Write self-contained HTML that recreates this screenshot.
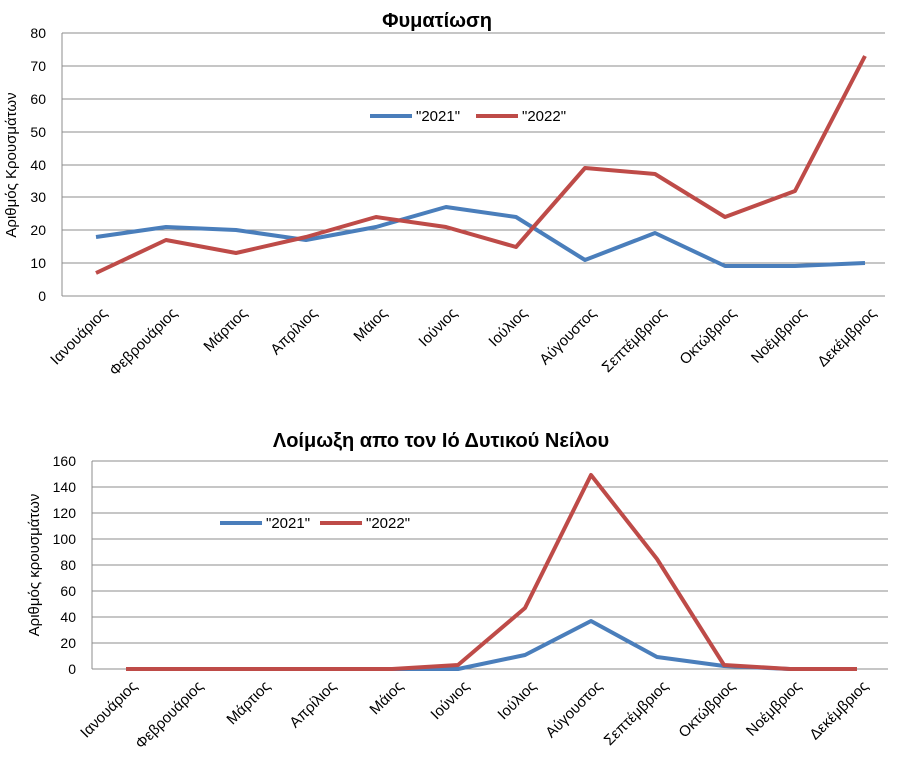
<!DOCTYPE html>
<html><head><meta charset="utf-8"><style>body{margin:0;background:#fff}svg{display:block;font-family:"Liberation Sans","DejaVu Sans",sans-serif}</style></head>
<body>
<svg width="911" height="775" viewBox="0 0 911 775">
<g id="c1">
<text x="437" y="27" text-anchor="middle" font-size="20" font-weight="bold">Φυματίωση</text>
<g stroke="#8c8c8c" stroke-width="1">
<line x1="62" y1="33" x2="885" y2="33"/><line x1="62" y1="66" x2="885" y2="66"/><line x1="62" y1="99" x2="885" y2="99"/><line x1="62" y1="132" x2="885" y2="132"/><line x1="62" y1="165" x2="885" y2="165"/><line x1="62" y1="197" x2="885" y2="197"/><line x1="62" y1="230" x2="885" y2="230"/><line x1="62" y1="263" x2="885" y2="263"/><line x1="62" y1="296" x2="885" y2="296"/><line x1="62" y1="33" x2="62" y2="296"/>
</g>
<g font-size="14" text-anchor="end">
<text x="46" y="38">80</text><text x="46" y="71">70</text><text x="46" y="104">60</text><text x="46" y="137">50</text><text x="46" y="170">40</text><text x="46" y="202">30</text><text x="46" y="235">20</text><text x="46" y="268">10</text><text x="46" y="301">0</text>
</g>
<text transform="translate(16,165) rotate(-90)" text-anchor="middle" font-size="15">Αριθμός Κρουσμάτων</text>
<polyline fill="none" stroke="#4a7ebb" stroke-width="4" stroke-linejoin="round" points="96,237 166,227 236,230 306,240 376,227 446,207 516,217 585,260 655,233 725,266 795,266 865,263"/>
<polyline fill="none" stroke="#be4b48" stroke-width="4" stroke-linejoin="round" points="96,273 166,240 236,253 306,237 376,217 446,227 516,247 585,168 655,174 725,217 795,191 865,56"/>
<line x1="370" y1="116" x2="412" y2="116" stroke="#4a7ebb" stroke-width="4"/><text x="416" y="121" font-size="15">"2021"</text>
<line x1="476" y1="116" x2="518" y2="116" stroke="#be4b48" stroke-width="4"/><text x="522" y="121" font-size="15">"2022"</text>
<g font-size="15" text-anchor="end">
<text transform="translate(108,314) rotate(-45)">Ιανουάριος</text>
<text transform="translate(178,314) rotate(-45)">Φεβρουάριος</text>
<text transform="translate(248,314) rotate(-45)">Μάρτιος</text>
<text transform="translate(318,314) rotate(-45)">Απρίλιος</text>
<text transform="translate(388,314) rotate(-45)">Μάιος</text>
<text transform="translate(458,314) rotate(-45)">Ιούνιος</text>
<text transform="translate(528,314) rotate(-45)">Ιούλιος</text>
<text transform="translate(597,314) rotate(-45)">Αύγουστος</text>
<text transform="translate(667,314) rotate(-45)">Σεπτέμβριος</text>
<text transform="translate(737,314) rotate(-45)">Οκτώβριος</text>
<text transform="translate(807,314) rotate(-45)">Νοέμβριος</text>
<text transform="translate(877,314) rotate(-45)">Δεκέμβριος</text>
</g>
</g>
<g id="c2">
<text x="441" y="447" text-anchor="middle" font-size="20" font-weight="bold">Λοίμωξη απο τον Ιό Δυτικού Νείλου</text>
<g stroke="#8c8c8c" stroke-width="1">
<line x1="92" y1="461" x2="888" y2="461"/><line x1="92" y1="487" x2="888" y2="487"/><line x1="92" y1="513" x2="888" y2="513"/><line x1="92" y1="539" x2="888" y2="539"/><line x1="92" y1="565" x2="888" y2="565"/><line x1="92" y1="591" x2="888" y2="591"/><line x1="92" y1="617" x2="888" y2="617"/><line x1="92" y1="643" x2="888" y2="643"/><line x1="92" y1="669" x2="888" y2="669"/><line x1="92" y1="461" x2="92" y2="669"/>
</g>
<g font-size="14" text-anchor="end">
<text x="76" y="466">160</text><text x="76" y="492">140</text><text x="76" y="518">120</text><text x="76" y="544">100</text><text x="76" y="570">80</text><text x="76" y="596">60</text><text x="76" y="622">40</text><text x="76" y="648">20</text><text x="76" y="674">0</text>
</g>
<text transform="translate(39,565) rotate(-90)" text-anchor="middle" font-size="15">Αριθμός κρουσμάτων</text>
<polyline fill="none" stroke="#4a7ebb" stroke-width="4" stroke-linejoin="round" points="126,669 192,669 259,669 325,669 392,669 458,669 525,655 591,621 657,657 724,666 790,669 857,669"/>
<polyline fill="none" stroke="#be4b48" stroke-width="4" stroke-linejoin="round" points="126,669 192,669 259,669 325,669 392,669 458,665 525,608 591,475 657,559 724,665 790,669 857,669"/>
<line x1="220" y1="523" x2="262" y2="523" stroke="#4a7ebb" stroke-width="4"/><text x="266" y="528" font-size="15">"2021"</text>
<line x1="320" y1="523" x2="362" y2="523" stroke="#be4b48" stroke-width="4"/><text x="366" y="528" font-size="15">"2022"</text>
<g font-size="15" text-anchor="end">
<text transform="translate(138,687) rotate(-45)">Ιανουάριος</text>
<text transform="translate(204,687) rotate(-45)">Φεβρουάριος</text>
<text transform="translate(271,687) rotate(-45)">Μάρτιος</text>
<text transform="translate(337,687) rotate(-45)">Απρίλιος</text>
<text transform="translate(404,687) rotate(-45)">Μάιος</text>
<text transform="translate(470,687) rotate(-45)">Ιούνιος</text>
<text transform="translate(537,687) rotate(-45)">Ιούλιος</text>
<text transform="translate(603,687) rotate(-45)">Αύγουστος</text>
<text transform="translate(669,687) rotate(-45)">Σεπτέμβριος</text>
<text transform="translate(736,687) rotate(-45)">Οκτώβριος</text>
<text transform="translate(802,687) rotate(-45)">Νοέμβριος</text>
<text transform="translate(869,687) rotate(-45)">Δεκέμβριος</text>
</g>
</g>
</svg>
</body></html>
